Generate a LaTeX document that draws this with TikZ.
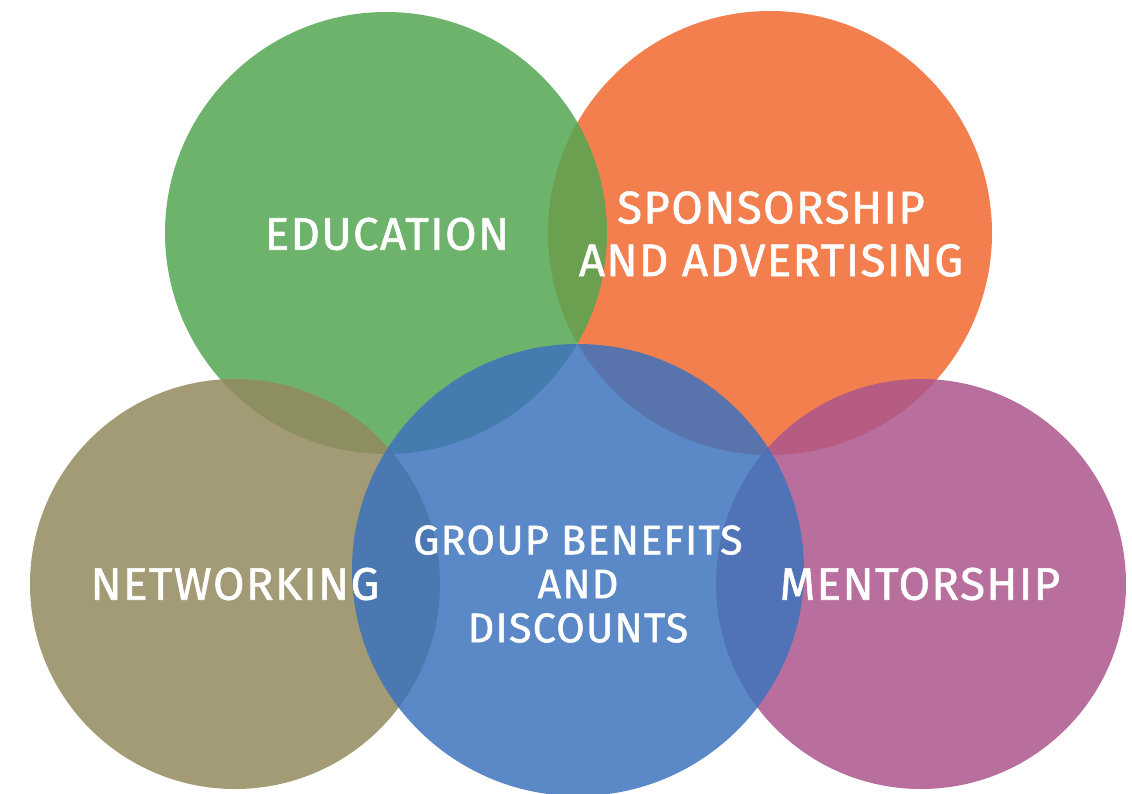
\documentclass[tikz,border=0pt]{standalone}
\usepackage{fontspec}
\setmainfont{Fira Sans}
\newfontfamily\lblfont{Fira Sans}[FakeBold=1.2, LetterSpace=3]
\definecolor{edugreen}{RGB}{83,166,82}
\definecolor{sponorange}{RGB}{241,104,48}
\definecolor{netolive}{RGB}{147,137,94}
\definecolor{mentpurple}{RGB}{172,86,140}
\definecolor{groupblue}{RGB}{62,115,188}
\begin{document}
\begin{tikzpicture}[x=0.02cm,y=-0.02cm,
  disc/.style={fill opacity=0.85},
  lbl/.style={text=white, font=\lblfont\fontsize{26}{26}\selectfont, align=center, inner sep=0pt}]
\useasboundingbox (0,0) rectangle (1132,794);
%circles
\fill[disc, sponorange] (770,233) circle (222);
\fill[disc, edugreen] (386,233) circle (221);
\fill[disc, netolive] (235,584) circle (205);
\fill[disc, mentpurple] (921,584) circle (205);
\fill[disc, groupblue] (578,570) circle (226);
%labels
\node[lbl] (edu) at (387,234) {EDUCATION};
\node[lbl] (spon) at (771,234) {SPONSORSHIP\\[4pt]AND ADVERTISING};
\node[lbl] (net) at (235,584) {NETWORKING};
\node[lbl] (ment) at (920,584) {MENTORSHIP};
\node[lbl, font=\lblfont\fontsize{23.5}{25}\selectfont] (group) at (578,584) {GROUP BENEFITS\\AND\\DISCOUNTS};
\end{tikzpicture}
\end{document}
